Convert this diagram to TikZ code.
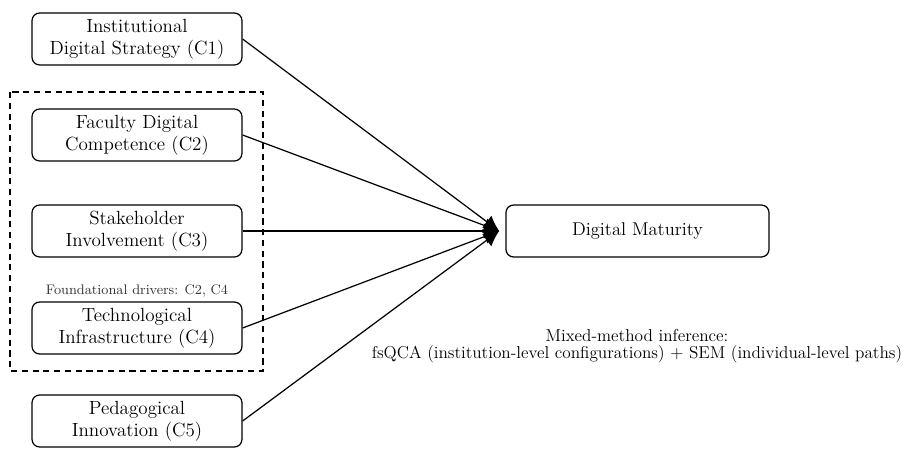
\documentclass[tikz,border=0pt]{standalone}
\usetikzlibrary{arrows.meta,positioning}
\begin{document}
\begin{tikzpicture}[x=0.65pt,y=-0.65pt,
  factor/.style={draw,thick,rounded corners=5pt,minimum width=136.5pt,minimum height=33.8pt,align=center,font=\fontsize{12.4}{14.3}\selectfont,inner sep=2pt},
  outcome/.style={draw,thick,rounded corners=5pt,minimum width=171pt,minimum height=33.8pt,align=center,font=\large},
  link/.style={thick,-{Latex[length=10pt,width=10pt]}},
  group/.style={thick,dash pattern=on 4pt off 3pt}]
\useasboundingbox (0,0) rectangle (911,448);
\node[factor] (c1) at (137,39) {Institutional\\Digital Strategy (C1)};
\node[factor] (c2) at (137,135) {Faculty Digital\\Competence (C2)};
\node[factor] (c3) at (137,231) {Stakeholder\\Involvement (C3)};
\node[factor] (c4) at (137,328) {Technological\\Infrastructure (C4)};
\node[factor] (c5) at (137,421) {Pedagogical\\Innovation (C5)};
\node[font=\fontsize{9}{11}\selectfont,text=black!80] (fd) at (137,291) {Foundational drivers: C2, C4};
\draw[group] (10,92) rectangle (263,371);
\node[outcome] (dm) at (637.5,231) {Digital Maturity};
\coordinate (hub) at ([xshift=-4pt]dm.west);
\node[align=center,font=\fontsize{11.2}{11.5}\selectfont] (mm) at (637,346) {Mixed-method inference:\\fsQCA (institution-level configurations) + SEM (individual-level paths)};
\foreach \c in {c1,c2,c3,c4,c5} \draw[link] (\c.east) -- (hub);
\end{tikzpicture}
\end{document}
